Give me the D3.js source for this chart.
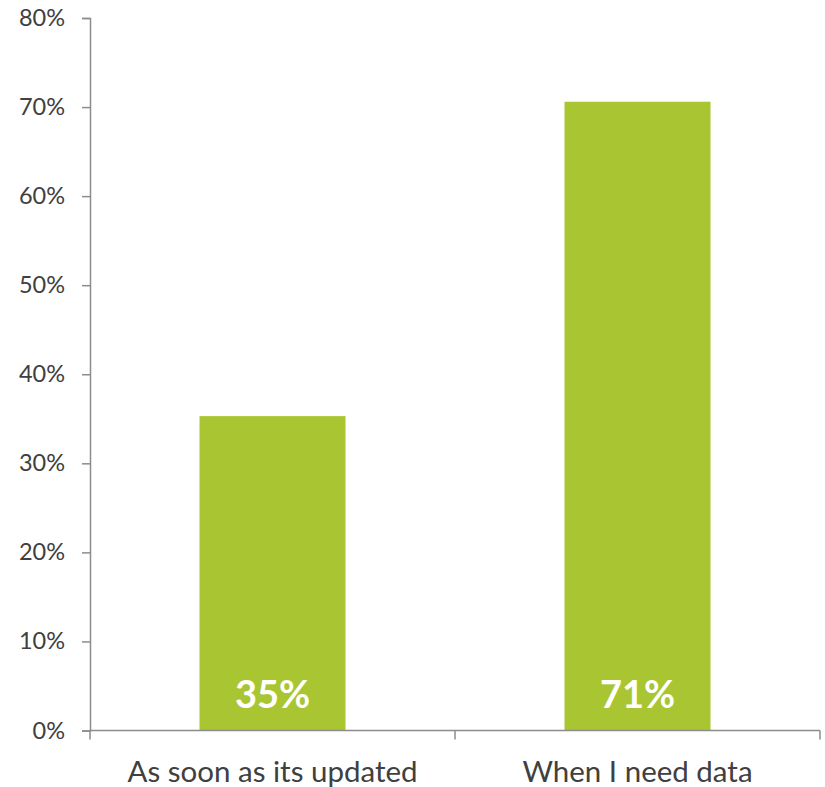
<!DOCTYPE html>
<html><head><meta charset="utf-8">
<script src="https://cdn.jsdelivr.net/npm/d3@7"></script>
<style>body{margin:0;background:#fff}svg{display:block}</style>
</head><body><svg id="c" width="825" height="787"></svg>
<script>
const categories = ["As soon as its updated", "When I need data"];
const values = [35.3, 70.6];
const labels = ["35%", "71%"];
const yTicks = [0, 10, 20, 30, 40, 50, 60, 70, 80];

const svg = d3.select("#c");
const font = "Lato, 'Open Sans', sans-serif";
const x0 = 90, x1 = 820, yTop = 18, yBot = 730.5;
const x = d3.scaleBand().domain(categories).range([x0, x1]).paddingInner(0.6).paddingOuter(0.3);
const y = d3.scaleLinear().domain([0, 80]).range([yBot, yTop]);
const axisColor = "#8c8c8c";

// bars
svg.selectAll("rect.bar").data(values).join("rect")
  .attr("x", (d, i) => x(categories[i]))
  .attr("width", x.bandwidth())
  .attr("y", d => y(d))
  .attr("height", d => y(0) - y(d))
  .attr("fill", "#a9c632");

// y axis
const ya = svg.append("g").attr("transform", `translate(${x0},0)`)
  .call(d3.axisLeft(y).tickValues(yTicks).tickFormat(d => d + "%").tickSize(8).tickPadding(17));
ya.select(".domain").attr("stroke", axisColor).attr("stroke-width", 1.5);
ya.selectAll(".tick line").attr("stroke", axisColor).attr("stroke-width", 1.5);
ya.selectAll(".tick text").attr("fill", "#404040").attr("font-size", 23.5).attr("font-family", font);

// x axis
const xl = svg.append("g").attr("transform", `translate(0,${yBot})`);
xl.append("line").attr("x1", x0).attr("x2", x1).attr("stroke", axisColor).attr("stroke-width", 1.5);
const step = (x1 - x0) / categories.length;
d3.range(categories.length + 1).forEach(i => {
  xl.append("line").attr("x1", x0 + i * step).attr("x2", x0 + i * step)
    .attr("y1", 0).attr("y2", 9).attr("stroke", axisColor).attr("stroke-width", 1.5);
});
xl.selectAll("text.cat").data(categories).join("text")
  .attr("x", d => x(d) + x.bandwidth() / 2).attr("y", 51)
  .attr("text-anchor", "middle").attr("fill", "#404040")
  .attr("font-size", 29.5).attr("font-family", font).text(d => d);

// value labels
svg.selectAll("text.val").data(values).join("text")
  .attr("x", (d, i) => x(categories[i]) + x.bandwidth() / 2).attr("y", 708)
  .attr("text-anchor", "middle").attr("fill", "#fff").attr("font-weight", "bold")
  .attr("font-size", 38).attr("font-family", font).text((d, i) => labels[i]);
</script></body></html>
